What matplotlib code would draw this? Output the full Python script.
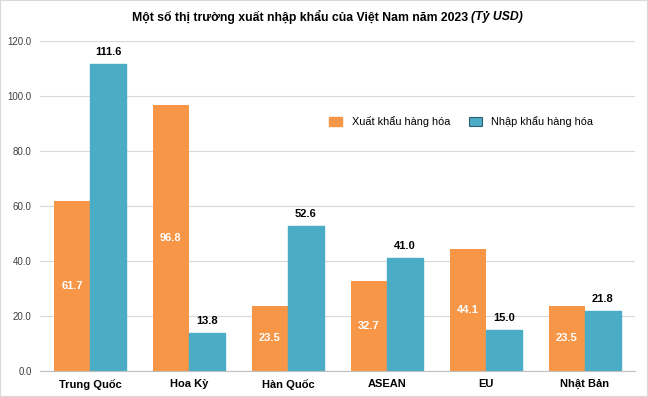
import numpy as np
import matplotlib
matplotlib.use("Agg")
import matplotlib.pyplot as plt

plt.rcParams['font.family'] = ['Liberation Sans', 'DejaVu Sans']

categories = ["Trung Quốc", "Hoa Kỳ", "Hàn Quốc", "ASEAN", "EU", "Nhật Bản"]
xuat_khau = [61.7, 96.8, 23.5, 32.7, 44.1, 23.5]
nhap_khau = [111.6, 13.8, 52.6, 41.0, 15.0, 21.8]

ORANGE = "#F79646"
BLUE = "#4BACC6"

fig = plt.figure(figsize=(6.48, 3.97), dpi=100)
ax = fig.add_axes([0.0617, 0.066, 0.918, 0.8315])

x = np.arange(len(categories))
w = 0.364
b1 = ax.bar(x - w / 2, xuat_khau, w, color=ORANGE, label="Xuất khẩu hàng hóa")
b2 = ax.bar(x + w / 2, nhap_khau, w, color=BLUE, edgecolor=BLUE,
            label="Nhập khẩu hàng hóa")

for rect, v in zip(b1, xuat_khau):
    ax.text(rect.get_x() + rect.get_width() / 2, v / 2, f"{v:.1f}",
            ha="center", va="center", color="white", fontsize=8, fontweight="bold")
for rect, v in zip(b2, nhap_khau):
    ax.text(rect.get_x() + rect.get_width() / 2, v + 2.5, f"{v:.1f}",
            ha="center", va="bottom", color="black", fontsize=8, fontweight="bold")

ax.set_ylim(0, 120)
ax.set_xlim(-0.505, 5.505)
ax.set_yticks(np.arange(0, 121, 20))
ax.set_yticklabels([f"{t:.1f}" for t in np.arange(0, 121, 20)], fontsize=7,
                   color="#404040")
ax.set_xticks(x)
ax.set_xticklabels(categories, fontsize=8, fontweight="bold")
ax.tick_params(axis="x", length=0, pad=6)
ax.tick_params(axis="y", length=0, pad=6)
ax.grid(axis="y", color="#D9D9D9", linewidth=0.8)
ax.set_axisbelow(True)
for s in ["top", "right", "left"]:
    ax.spines[s].set_visible(False)
ax.spines["bottom"].set_color("#BFBFBF")

leg_handles = [plt.Rectangle((0, 0), 1, 1, color=ORANGE),
               plt.Rectangle((0, 0), 1, 1, facecolor=BLUE, edgecolor="#2F5F6B", linewidth=0.8)]
ax.legend(leg_handles, ["Xuất khẩu hàng hóa", "Nhập khẩu hàng hóa"], ncol=2,
          loc="center", bbox_to_anchor=(0.708, 0.754), frameon=False, fontsize=7.8,
          handlelength=1.2, handleheight=0.9, columnspacing=1.7, handletextpad=0.9)

# title: bold part + italic unit, centred together
fig.canvas.draw()
r = fig.canvas.get_renderer()
t1 = fig.text(0, 0.957, "Một số thị trường xuất nhập khẩu của Việt Nam năm 2023 ",
              ha="left", va="center", fontsize=8.8, fontweight="bold")
t2 = fig.text(0, 0.957, "(Tỷ USD)", ha="left", va="center", fontsize=8.8,
              fontweight="bold", fontstyle="italic")
w1 = t1.get_window_extent(r).width / fig.bbox.width
w2 = t2.get_window_extent(r).width / fig.bbox.width
start = 0.505 - (w1 + w2) / 2
t1.set_x(start)
t2.set_x(start + w1)

# light border around the picture
fig.patches.append(plt.Rectangle((0, 0), 1, 1, transform=fig.transFigure,
                                 fill=False, edgecolor="#D9D9D9", linewidth=1.5))

fig.savefig("out.png", dpi=100)
